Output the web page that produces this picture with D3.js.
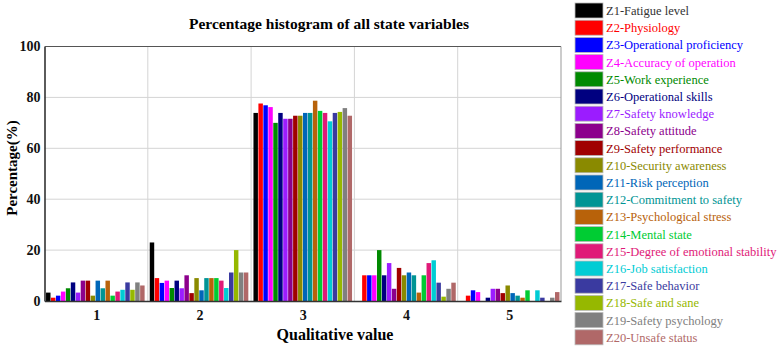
<!DOCTYPE html>
<html>
<head>
<meta charset="utf-8">
<script src="https://d3js.org/d3.v7.min.js"></script>
<style>
  body { margin: 0; background: #fff; }
  svg { display: block; }
  .tick text { font: bold 14px "Liberation Serif", "Times New Roman", serif; fill: #111; }
  .legend text { font: 12.5px "Liberation Serif", "Times New Roman", serif; }
</style>
</head>
<body>
<svg width="782" height="348"></svg>
<script>
// qualitative values on the x axis
var groups = [1, 2, 3, 4, 5];

var names = ["Z1-Fatigue level", "Z2-Physiology", "Z3-Operational proficiency", "Z4-Accuracy of operation",
  "Z5-Work experience", "Z6-Operational skills", "Z7-Safety knowledge", "Z8-Safety attitude",
  "Z9-Safety performance", "Z10-Security awareness", "Z11-Risk perception", "Z12-Commitment to safety",
  "Z13-Psychological stress", "Z14-Mental state", "Z15-Degree of emotional stability", "Z16-Job satisfaction",
  "Z17-Safe behavior", "Z18-Safe and sane", "Z19-Safety psychology", "Z20-Unsafe status"];

var colors = ["#000000", "#ff0000", "#0000ff", "#ff00ff", "#008a00", "#000080", "#9b1cff", "#8c008c",
  "#a00000", "#8a8a00", "#0066b8", "#009494", "#b8620a", "#00cc33", "#e01a78", "#00ccd4",
  "#3a3aa0", "#96b800", "#808080", "#b06868"];

// percentage of each variable (Z1..Z20) at each qualitative value
var v1 = [3.3, 1.3, 2.1, 3.7, 5.0, 7.3, 3.3, 8.0, 8.0, 2.1, 8.0, 5.0, 8.0, 2.1, 3.7, 4.4, 7.3, 4.4, 7.3, 6.1];
var v2 = [23.0, 9.0, 7.1, 8.0, 5.1, 8.0, 5.0, 10.1, 3.1, 9.0, 4.2, 9.0, 9.0, 9.0, 8.0, 5.1, 11.2, 20.0, 11.2, 11.2];
var v3 = [73.9, 77.6, 76.9, 76.2, 70.0, 73.9, 71.6, 71.6, 72.8, 72.8, 73.9, 73.9, 78.7, 74.7, 73.9, 70.6, 73.9, 74.3, 75.8, 72.8];
var v4 = [0, 10.1, 10.1, 10.1, 20.0, 10.1, 14.9, 4.8, 13.0, 10.1, 11.2, 10.1, 3.3, 10.1, 14.9, 16.0, 7.2, 1.7, 4.8, 7.2];
var v5 = [0, 2.1, 4.2, 3.5, 0, 1.3, 4.8, 4.8, 3.1, 6.1, 3.1, 2.1, 1.3, 4.2, 0, 4.2, 1.3, 0, 1.3, 3.5];
var values = [v1, v2, v3, v4, v5];

var yTicks = [0, 20, 40, 60, 80, 100];

var svg = d3.select("svg");
var mLeft = 44.5, mRight = 561, mTop = 46.5, mBottom = 301;

var x = d3.scaleLinear().domain([0.5, 5.5]).range([mLeft, mRight]);
var xg = d3.scaleBand().domain(groups).range([mLeft, mRight]).paddingInner(0.04).paddingOuter(0.01);
var xs = d3.scaleBand().domain(d3.range(names.length)).range([0, xg.bandwidth()]).padding(0.1);
var y = d3.scaleLinear().domain([0, 100]).range([mBottom, mTop]);

// grid
var grid = svg.append("g");
grid.selectAll(".hg").data(yTicks.slice(1, -1)).join("line")
  .attr("x1", mLeft).attr("x2", mRight)
  .attr("y1", function (d) { return y(d); }).attr("y2", function (d) { return y(d); })
  .attr("stroke", "#d4d4d4").attr("stroke-width", 1);
grid.selectAll(".vg").data([1.5, 2.5, 3.5, 4.5]).join("line")
  .attr("x1", function (d) { return x(d); }).attr("x2", function (d) { return x(d); })
  .attr("y1", mTop).attr("y2", mBottom)
  .attr("stroke", "#d4d4d4").attr("stroke-width", 1);

// bars
var gBars = svg.append("g").selectAll("g").data(groups).join("g")
  .attr("transform", function (d) { return "translate(" + xg(d) + ",0)"; });
gBars.selectAll("rect").data(function (d, i) { return values[i]; }).join("rect")
  .attr("x", function (d, i) { return xs(i); })
  .attr("width", xs.bandwidth())
  .attr("y", function (d) { return y(d); })
  .attr("height", function (d) { return mBottom - y(d); })
  .attr("fill", function (d, i) { return colors[i]; });

// box
svg.append("line").attr("x1", mLeft).attr("x2", mRight).attr("y1", mTop).attr("y2", mTop).attr("stroke", "#555").attr("stroke-width", 1);
svg.append("line").attr("x1", mRight).attr("x2", mRight).attr("y1", mTop).attr("y2", mBottom).attr("stroke", "#999").attr("stroke-width", 1);

// axes
var yAxis = svg.append("g").attr("transform", "translate(" + mLeft + ",0)")
  .call(d3.axisLeft(y).tickValues(yTicks).tickSize(0).tickPadding(4));
yAxis.select(".domain").attr("stroke", "#333").attr("stroke-width", 1.6);

var xAxis = svg.append("g").attr("transform", "translate(0," + mBottom + ")")
  .call(d3.axisBottom(x).tickValues(groups).tickFormat(d3.format("d")).tickSize(0).tickPadding(9));
xAxis.select(".domain").attr("stroke", "#333").attr("stroke-width", 1.6);

// labels
svg.append("text").attr("x", 329).attr("y", 29).attr("text-anchor", "middle")
  .style("font", "bold 15.5px 'Liberation Serif', serif").text("Percentage histogram of all state variables");
svg.append("text").attr("x", 335).attr("y", 340).attr("text-anchor", "middle")
  .style("font", "bold 16px 'Liberation Serif', serif").text("Qualitative value");
svg.append("text").attr("transform", "translate(17,168) rotate(-90)").attr("text-anchor", "middle")
  .style("font", "bold 15px 'Liberation Serif', serif").text("Percentage(%)");

// legend
var lg = svg.append("g").attr("class", "legend").selectAll("g").data(names).join("g")
  .attr("transform", function (d, i) { return "translate(575," + (3 + i * 17.2) + ")"; });
lg.append("rect").attr("width", 28).attr("height", 15)
  .attr("fill", function (d, i) { return colors[i]; })
  .attr("stroke", "#bbb").attr("stroke-width", 0.8);
lg.append("text").attr("x", 31).attr("y", 12)
  .attr("fill", function (d, i) { return i === 0 ? "#333" : colors[i]; })
  .text(function (d) { return d; });
</script>
</body>
</html>
